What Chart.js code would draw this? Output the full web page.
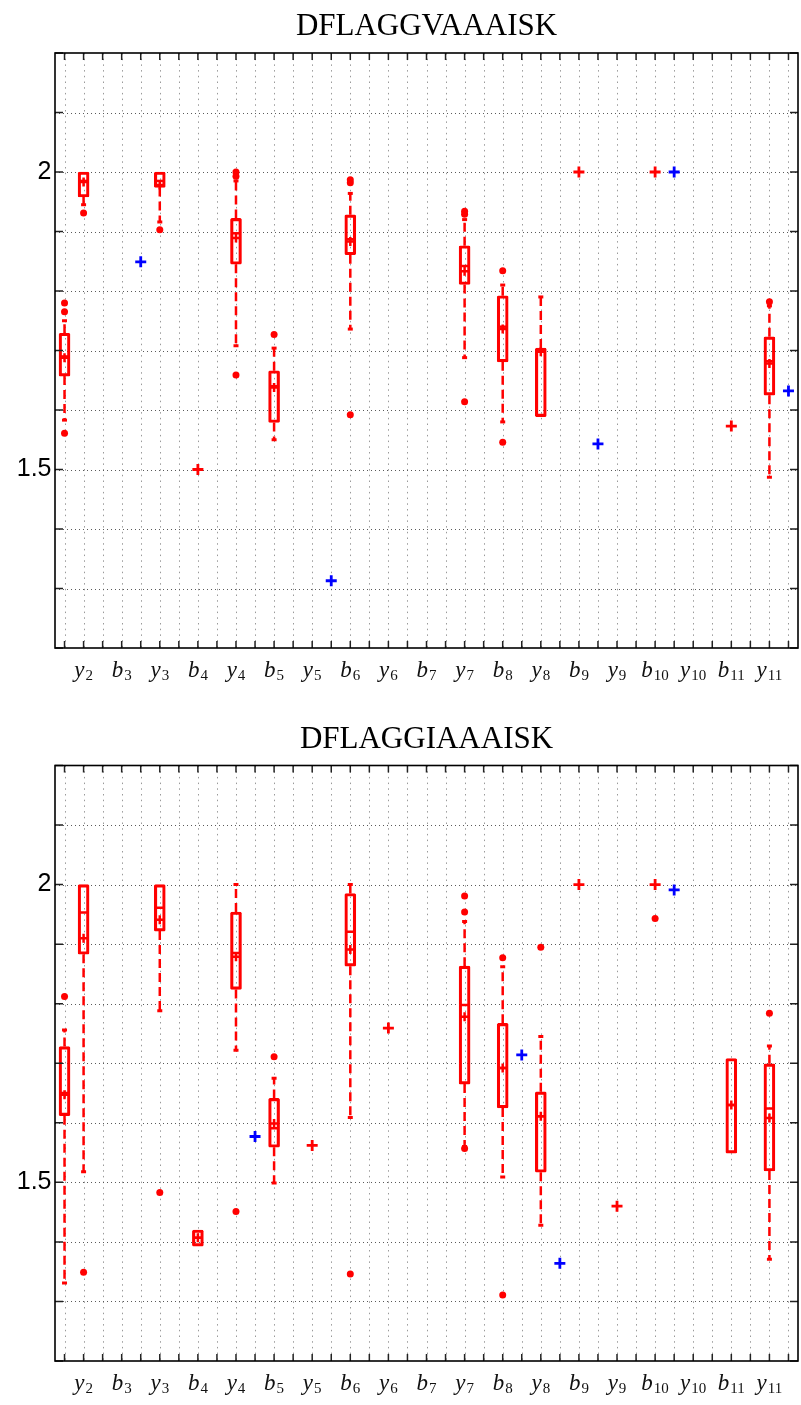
<!DOCTYPE html>
<html>
<head>
<meta charset="utf-8">
<script src="https://cdn.jsdelivr.net/npm/chart.js@4.4.0/dist/chart.umd.min.js"></script>
<style>
  html, body { margin: 0; padding: 0; background: #fff; }
  #wrap { position: relative; width: 801px; height: 1405px; }
  canvas { position: absolute; left: 0; }
</style>
</head>
<body>
<div id="wrap">
  <canvas id="c1" width="801" height="712" style="top:0"></canvas>
  <canvas id="c2" width="801" height="693" style="top:712px"></canvas>
</div>
<script>
// x 轴: 1..39 个位置, 标签放在偶数位置
const xTickSlots = [2, 4, 6, 8, 10, 12, 14, 16, 18, 20, 22, 24, 26, 28, 30, 32, 34, 36, 38];
const xTickLabels = ['y_2', 'b_3', 'y_3', 'b_4', 'y_4', 'b_5', 'y_5', 'b_6', 'y_6', 'b_7',
  'y_7', 'b_8', 'y_8', 'b_9', 'y_9', 'b_10', 'y_10', 'b_11', 'y_11'];
const yTickValues = [1.2, 1.3, 1.4, 1.5, 1.6, 1.7, 1.8, 1.9, 2.0, 2.1, 2.2];
const yLabelValues = [1.5, 2];

// DFLAGGVAAAISK
const vBoxSlot = [1, 2, 6, 10, 12, 16, 22, 24, 26, 38];
const vQ3 = [1.729, 2.000, 2.000, 1.922, 1.666, 1.928, 1.876, 1.792, 1.704, 1.723];
const vMed = [1.690, 1.985, 1.985, 1.897, 1.640, 1.887, 1.842, 1.740, 1.700, 1.682];
const vQ1 = [1.657, 1.958, 1.974, 1.845, 1.579, 1.861, 1.811, 1.681, 1.589, 1.625];
const vHi = [1.750, 2.000, 2.000, 1.985, 1.704, 1.964, 1.920, 1.810, 1.790, 1.775];
const vLo = [1.583, 1.945, 1.916, 1.708, 1.550, 1.736, 1.688, 1.580, 1.589, 1.487];
const vMean = [1.688, 1.983, 1.978, 1.889, 1.638, 1.883, 1.833, 1.736, 1.698, 1.678];
const vOutSlot = [1, 1, 1, 2, 6, 10, 10, 10, 12, 16, 16, 16, 22, 22, 22, 24, 24, 38];
const vOutVal = [1.780, 1.765, 1.561, 1.931, 1.903, 2.000, 1.993, 1.659, 1.727,
  1.987, 1.982, 1.592, 1.934, 1.929, 1.614, 1.834, 1.546, 1.782];
const vRedSlot = [8, 28, 32, 36];
const vRedVal = [1.500, 2.000, 2.000, 1.573];
const vBlueSlot = [5, 15, 29, 33, 39];
const vBlueVal = [1.849, 1.313, 1.543, 2.000, 1.632];

// DFLAGGIAAAISK
const iBoxSlot = [1, 2, 6, 8, 10, 12, 16, 22, 24, 26, 36, 38];
const iQ3 = [1.728, 2.000, 2.000, 1.420, 1.954, 1.641, 1.985, 1.863, 1.767, 1.652, 1.708, 1.699];
const iMed = [1.650, 1.953, 1.961, 1.407, 1.885, 1.591, 1.921, 1.798, 1.692, 1.611, 1.630, 1.624];
const iQ1 = [1.612, 1.883, 1.922, 1.393, 1.824, 1.559, 1.863, 1.665, 1.625, 1.517, 1.549, 1.519];
const iHi = [1.756, 2.000, 2.000, 1.420, 2.000, 1.675, 2.000, 1.938, 1.862, 1.745, 1.708, 1.729];
const iLo = [1.331, 1.518, 1.788, 1.393, 1.722, 1.499, 1.609, 1.560, 1.509, 1.428, 1.549, 1.371];
const iMean = [1.647, 1.910, 1.941, 1.407, 1.879, 1.599, 1.891, 1.778, 1.692, 1.611, 1.630, 1.608];
const iOutSlot = [1, 2, 6, 10, 12, 16, 22, 22, 22, 24, 24, 26, 32, 38];
const iOutVal = [1.812, 1.349, 1.483, 1.451, 1.711, 1.346, 1.981, 1.954, 1.557,
  1.877, 1.311, 1.895, 1.943, 1.784];
const iRedSlot = [14, 18, 28, 30, 32];
const iRedVal = [1.562, 1.759, 2.000, 1.460, 2.000];
const iBlueSlot = [11, 25, 27, 33];
const iBlueVal = [1.577, 1.714, 1.364, 1.991];

const RED = '#ff0000';
const BLUE = '#0000ff';

function pts(slots, vals) {
  return slots.map((s, i) => ({ x: s, y: vals[i] }));
}

// 坐标框、内向刻度、网格、标题和下标标签
const axesPlugin = {
  id: 'matlabAxes',
  beforeDatasetsDraw(chart) {
    const { ctx, chartArea: a, scales: { x, y } } = chart;
    ctx.save();
    ctx.lineWidth = 1;
    ctx.strokeStyle = '#9a9a9a';
    ctx.setLineDash([1.5, 4.2]);
    for (let s = Math.ceil(x.min); s <= x.max; s++) {
      const px = Math.round(x.getPixelForValue(s)) + 0.5;
      ctx.beginPath();
      ctx.moveTo(px, a.top);
      ctx.lineTo(px, a.bottom);
      ctx.stroke();
    }
    ctx.strokeStyle = '#5a5a5a';
    ctx.setLineDash([1, 3]);
    y.ticks.forEach((t) => {
      if (t.value <= y.min + 1e-9 || t.value >= y.max - 1e-9) return;
      const py = Math.round(y.getPixelForValue(t.value)) + 0.5;
      ctx.beginPath();
      ctx.moveTo(a.left, py);
      ctx.lineTo(a.right, py);
      ctx.stroke();
    });
    ctx.restore();
  },
  afterDatasetsDraw(chart) {
    const { ctx, chartArea: a, scales: { x, y } } = chart;
    ctx.save();
    ctx.setLineDash([]);
    ctx.strokeStyle = '#222';
    ctx.lineWidth = 1.5;
    for (let s = Math.ceil(x.min); s <= x.max; s++) {
      const px = x.getPixelForValue(s);
      ctx.beginPath();
      ctx.moveTo(px, a.top); ctx.lineTo(px, a.top + 7);
      ctx.moveTo(px, a.bottom); ctx.lineTo(px, a.bottom - 7);
      ctx.stroke();
    }
    y.ticks.forEach((t) => {
      const py = y.getPixelForValue(t.value);
      ctx.beginPath();
      ctx.moveTo(a.left, py); ctx.lineTo(a.left + 8, py);
      ctx.moveTo(a.right, py); ctx.lineTo(a.right - 8, py);
      ctx.stroke();
    });
    ctx.strokeStyle = '#000';
    ctx.lineWidth = 1.6;
    ctx.strokeRect(a.left, a.top, a.right - a.left, a.bottom - a.top);
    ctx.restore();
  },
  afterDraw(chart, args, opts) {
    const { ctx, chartArea: a, scales: { x } } = chart;
    ctx.save();
    ctx.fillStyle = '#000';
    ctx.textBaseline = 'alphabetic';
    ctx.textAlign = 'center';
    ctx.font = '31px "Liberation Serif"';
    ctx.fillText(opts.title, (a.left + a.right) / 2, a.top - 18);

    ctx.textAlign = 'left';
    ctx.fillStyle = '#111';
    xTickLabels.forEach((lab, i) => {
      const [base, sub] = lab.split('_');
      ctx.font = 'italic 23px "Liberation Serif"';
      const w1 = ctx.measureText(base).width;
      ctx.font = '15px "Liberation Serif"';
      const w2 = ctx.measureText(sub).width;
      const cx = x.getPixelForValue(xTickSlots[i]);
      const left = cx - (w1 + w2 + 1) / 2;
      const by = a.bottom + 29;
      ctx.font = 'italic 23px "Liberation Serif"';
      ctx.fillText(base, left, by);
      ctx.font = '15px "Liberation Serif"';
      ctx.fillText(sub, left + w1 + 1, by + 3);
    });
    ctx.restore();
  }
};

function makeChart(id, title, d, pad) {
  const whisk = [];
  const caps = [];
  d.slot.forEach((s, i) => {
    if (d.hi[i] > d.q3[i]) {
      whisk.push({ x: s, y: d.q3[i] }, { x: s, y: d.hi[i] }, { x: s, y: null });
      caps.push({ x: s, y: d.hi[i] });
    }
    if (d.lo[i] < d.q1[i]) {
      whisk.push({ x: s, y: d.q1[i] }, { x: s, y: d.lo[i] }, { x: s, y: null });
      caps.push({ x: s, y: d.lo[i] });
    }
  });

  const marker = (data, style, r, bw, color, order) => ({
    type: 'line',
    data,
    showLine: false,
    pointStyle: style,
    pointRadius: r,
    pointHoverRadius: r,
    pointBorderWidth: bw,
    pointBorderColor: color,
    pointBackgroundColor: color,
    order
  });

  return new Chart(document.getElementById(id), {
    type: 'bar',
    data: {
      datasets: [
        {
          type: 'bar',
          data: d.slot.map((s, i) => ({ x: s, y: [d.q1[i], d.q3[i]] })),
          backgroundColor: 'rgba(0,0,0,0)',
          borderColor: RED,
          borderWidth: 2.5,
          borderSkipped: false,
          borderRadius: 1.5,
          barThickness: 11,
          grouped: false,
          order: 5
        },
        {
          type: 'line',
          data: whisk,
          borderColor: RED,
          borderWidth: 2.5,
          borderDash: [9, 5],
          pointRadius: 0,
          spanGaps: false,
          order: 6
        },
        marker(caps, 'line', 2.5, 3, RED, 4),
        marker(pts(d.slot, d.med), 'line', 5, 2.5, RED, 3),
        marker(pts(d.slot, d.mean), 'cross', 4.5, 2.5, RED, 2),
        marker(pts(d.outSlot, d.outVal), 'circle', 3.5, 0, RED, 1),
        marker(pts(d.redSlot, d.redVal), 'cross', 5.5, 2.8, RED, 1),
        marker(pts(d.blueSlot, d.blueVal), 'cross', 5.5, 2.8, BLUE, 0)
      ]
    },
    options: {
      responsive: false,
      animation: false,
      events: [],
      layout: { autoPadding: false, padding: { left: 0, right: 3, top: pad.top, bottom: 0 } },
      plugins: {
        legend: { display: false },
        tooltip: { enabled: false },
        title: { display: false },
        matlabAxes: { title }
      },
      scales: {
        x: {
          type: 'linear',
          min: 0.5,
          max: 39.5,
          offset: false,
          grid: { display: false, drawTicks: false },
          border: { display: false },
          ticks: { display: false },
          afterFit: (scale) => { scale.height = pad.xAxis; }
        },
        y: {
          type: 'linear',
          min: 1.2,
          max: 2.2,
          grid: { display: false, drawTicks: false },
          border: { display: false },
          afterBuildTicks: (scale) => { scale.ticks = yTickValues.map((v) => ({ value: v })); },
          afterFit: (scale) => { scale.width = 55; },
          ticks: {
            color: '#000',
            padding: 3.5,
            font: { family: '"Liberation Sans"', size: 25 },
            callback: (v) => {
              const r = Math.round(v * 10) / 10;
              return yLabelValues.includes(r) ? String(r) : '';
            }
          }
        }
      }
    },
    plugins: [axesPlugin]
  });
}

makeChart('c1', 'DFLAGGVAAAISK', {
  slot: vBoxSlot, q1: vQ1, med: vMed, q3: vQ3, lo: vLo, hi: vHi, mean: vMean,
  outSlot: vOutSlot, outVal: vOutVal, redSlot: vRedSlot, redVal: vRedVal,
  blueSlot: vBlueSlot, blueVal: vBlueVal
}, { top: 53, xAxis: 64 });

makeChart('c2', 'DFLAGGIAAAISK', {
  slot: iBoxSlot, q1: iQ1, med: iMed, q3: iQ3, lo: iLo, hi: iHi, mean: iMean,
  outSlot: iOutSlot, outVal: iOutVal, redSlot: iRedSlot, redVal: iRedVal,
  blueSlot: iBlueSlot, blueVal: iBlueVal
}, { top: 53.5, xAxis: 44 });
</script>
</body>
</html>
